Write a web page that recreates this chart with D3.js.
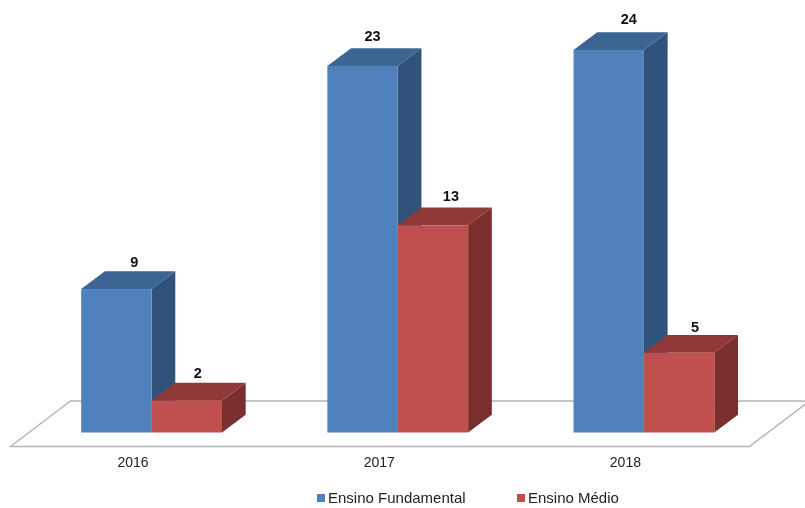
<!DOCTYPE html>
<html><head><meta charset="utf-8">
<script src="https://cdn.jsdelivr.net/npm/d3@7"></script>
<style>html,body{margin:0;padding:0;background:#fff}svg{display:block;filter:blur(0.4px)}text{font-family:"Liberation Sans",Arial,sans-serif}</style>
</head><body><svg id="c" width="805" height="508"></svg>
<script>
const years = ["2016","2017","2018"];
const seriesNames = ["Ensino Fundamental","Ensino Médio"];
const fundamental = [9,23,24];
const medio = [2,13,5];
const seriesValues = [fundamental, medio];
const frontColors = ["#4f81bd","#c0504d"];
const topColors = ["#3d6594","#8f3a38"];
const sideColors = ["#31527a","#7a2f2e"];

const dx=23.7, dy=17.8;
const svg=d3.select("#c");
const x0=d3.scaleBand().domain(years).range([28.5,767]);
const x1=d3.scaleBand().domain(seriesNames).range([0,x0.bandwidth()]).paddingInner(0).paddingOuter(0.7486);
const y=d3.scaleLinear().domain([0,24]).range([432.5,50]);

// floor
const floorY=446.5, backY=401;
const fx=d3.scaleLinear().domain([0,1]).range([10.5,749.5]);
svg.append("path")
  .attr("d",d3.line()([[fx(0),floorY],[fx(1),floorY],[fx(1)+60,backY],[fx(0)+60,backY]])+"Z")
  .attr("fill","#fff").attr("stroke","#b4b4b4").attr("stroke-width",1.4);

// bars
const line=d3.line();
const bars=[];
years.forEach((yr,i)=>seriesNames.forEach((s,j)=>bars.push({yr,s,j,v:seriesValues[j][i]})));
const g=svg.selectAll("g.bar").data(bars).join("g").attr("class","bar");
g.each(function(d){
  const a=x0(d.yr)+x1(d.s), b=a+x1.bandwidth(), t=y(d.v), z=y(0);
  const sel=d3.select(this);
  sel.append("path").attr("fill",sideColors[d.j])
    .attr("d",line([[b,t],[b+dx,t-dy],[b+dx,z-dy],[b,z]])+"Z");
  sel.append("path").attr("fill",topColors[d.j])
    .attr("d",line([[a,t],[a+dx,t-dy],[b+dx,t-dy],[b,t]])+"Z");
  sel.append("rect").attr("x",a).attr("y",t).attr("width",b-a).attr("height",z-t)
    .attr("fill",frontColors[d.j]);
});

// value labels
const labelNudgeX=[[18,11],[10,18],[20,16]];
const labelNudgeY=[[0,1],[3,2],[4,-1]];
bars.forEach((d)=>{
  const i=years.indexOf(d.yr);
  svg.append("text").attr("x",x0(d.yr)+x1(d.s)+x1.bandwidth()/2+labelNudgeX[i][d.j])
    .attr("y",y(d.v)-22-labelNudgeY[i][d.j]).attr("text-anchor","middle")
    .attr("font-size",14.5).attr("font-weight","bold").attr("fill","#111").text(d.v);
});

// axis labels
svg.selectAll("text.cat").data(years).join("text").attr("class","cat")
  .attr("x",d=>x0(d)+x0.bandwidth()/2-18.5).attr("y",462).attr("dy","0.36em")
  .attr("text-anchor","middle")
  .attr("font-size",14).attr("fill","#222").text(d=>d);

// legend
const legX=d3.scaleOrdinal().domain(seriesNames).range([317,517]);
const leg=svg.selectAll("g.leg").data(seriesNames).join("g").attr("class","leg")
  .attr("transform",d=>`translate(${legX(d)},498)`);
leg.append("rect").attr("x",0).attr("y",-4).attr("width",8).attr("height",8)
  .attr("fill",(d,i)=>frontColors[i]);
leg.append("text").attr("x",11).attr("y",0).attr("dy","0.36em")
  .attr("font-size",15).attr("fill","#222").text(d=>d);
</script></body></html>
